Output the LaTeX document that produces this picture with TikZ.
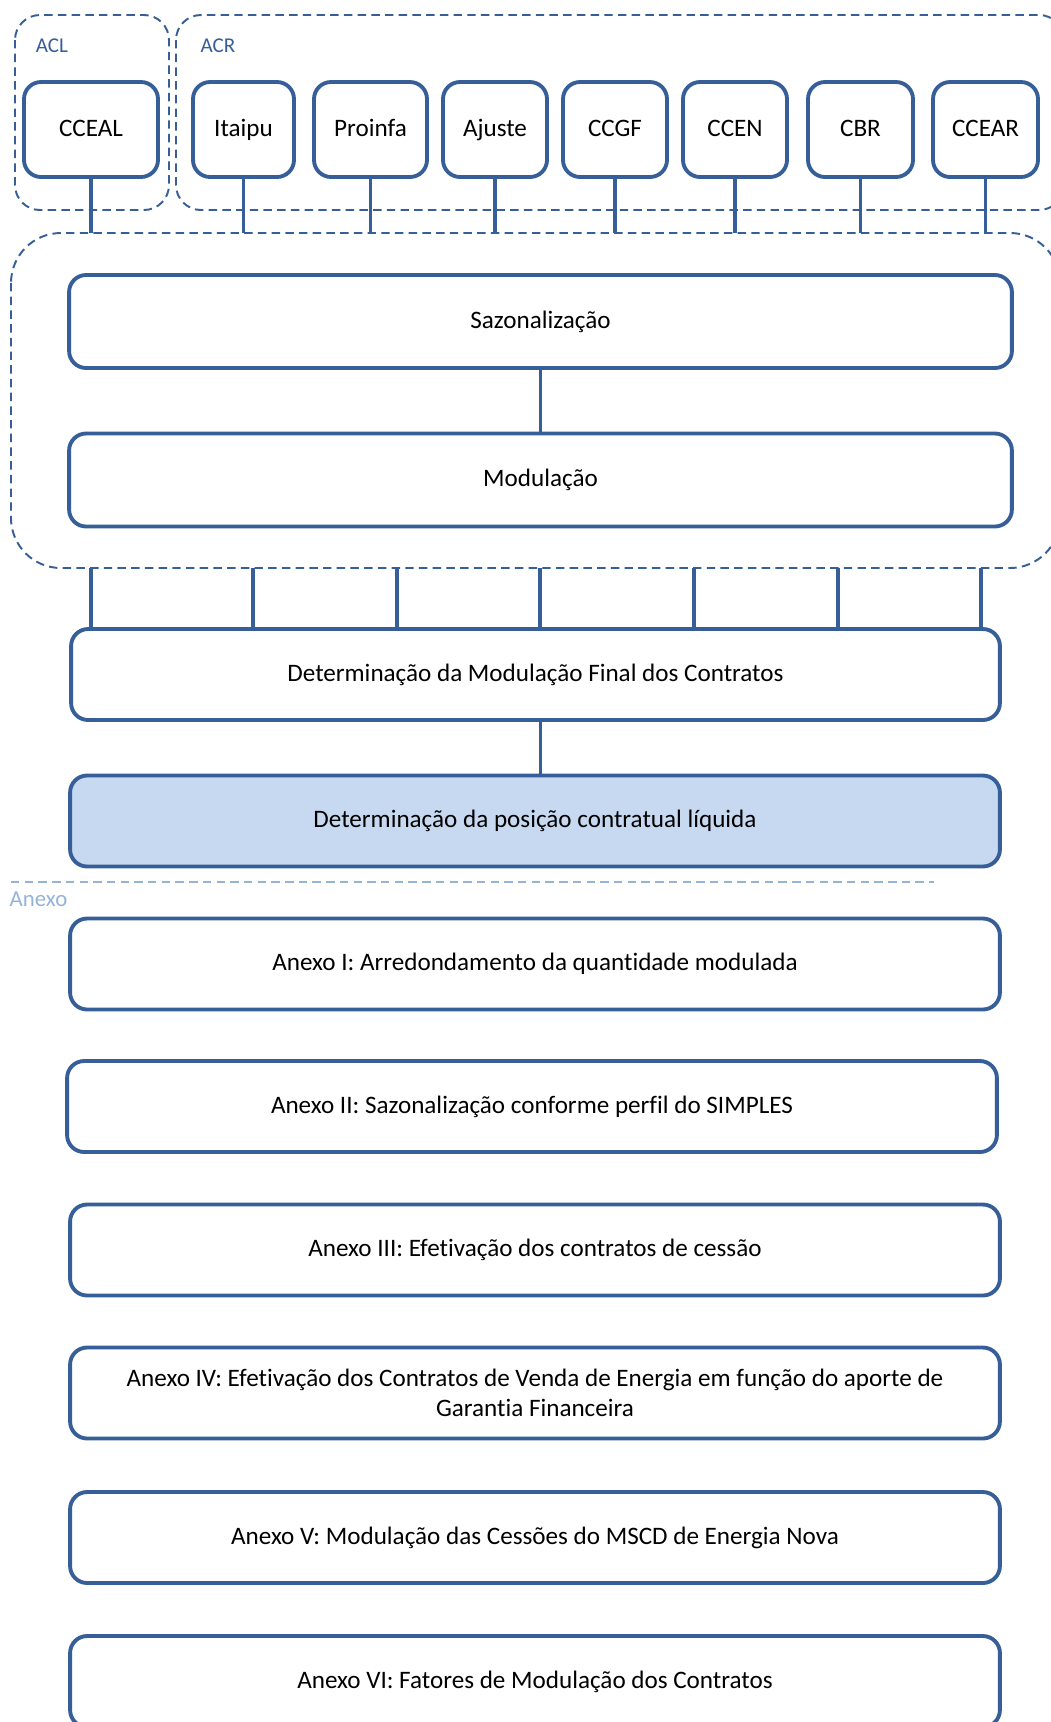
\documentclass[tikz,border=0pt]{standalone}
\usepackage{fontspec}
\setmainfont{Carlito}[Ligatures=NoCommon]
\usepackage{xcolor}
\definecolor{ccblue}{RGB}{54,94,152}
\definecolor{ccfill}{RGB}{198,217,241}
\definecolor{cclight}{RGB}{149,179,215}
\usetikzlibrary{positioning}

\tikzset{
  stepbox/.style={draw=ccblue, line width=2.2pt, rounded corners=0.34cm, fill=white,
    align=center, inner sep=0pt, text height=1.95ex, text depth=0.3ex,
    font=\fontsize{14.3}{16.8}\selectfont},
  itembox/.style={stepbox, minimum height=1.9cm},
  widebox/.style={stepbox, minimum width=18.6cm, minimum height=1.82cm},
  link/.style={draw=ccblue, line width=1.8pt},
  grpframe/.style={draw=ccblue, line width=1.1pt, dash pattern=on 4.8pt off 3pt},
  grplabel/.style={text=ccblue, font=\fontsize{12}{14}\selectfont},
}

\begin{document}
\begin{tikzpicture}[x=0.02cm, y=-0.02cm]
  \useasboundingbox (0,0) rectangle (1051,1722);
  \clip (0,0) rectangle (1051,1722);

  % Contract groups (top)
  \draw[grpframe, rounded corners=0.5cm] (15,15) rectangle (169,210);
  \node[grplabel] (acl) at (52,46) {ACL};
  \draw[grpframe, rounded corners=0.5cm] (176,15) rectangle (1064,210);
  \node[grplabel] (acr) at (218,46) {ACR};

  \node[itembox, minimum width=2.68cm] (cceal) at (91,129.5) {CCEAL};
  \node[itembox, minimum width=2.02cm] (itaipu) at (243.5,129.5) {Itaipu};
  \node[itembox, minimum width=2.26cm] (proinfa) at (370.5,129.5) {Proinfa};
  \node[itembox, minimum width=2.08cm] (ajuste) at (495,129.5) {Ajuste};
  \node[itembox, minimum width=2.08cm] (ccgf) at (615,129.5) {CCGF};
  \node[itembox, minimum width=2.08cm] (ccen) at (735,129.5) {CCEN};
  \node[itembox, minimum width=2.10cm] (cbr) at (860.5,129.5) {CBR};
  \node[itembox, minimum width=2.10cm] (ccear) at (985.5,129.5) {CCEAR};

  % Seasonalisation / modulation group
  \draw[grpframe, rounded corners=1cm] (11,233) rectangle (1060,568);
  \coordinate (grptop) at (0,233);
  \node[stepbox, minimum width=18.86cm, minimum height=1.86cm] (saz) at (540.5,321.5) {Sazonalização};
  \node[stepbox, minimum width=18.86cm, minimum height=1.86cm] (mod) at (540.5,480) {Modulação};

  \foreach \n in {cceal,itaipu,proinfa,ajuste,ccgf,ccen,cbr,ccear}
    \draw[link] (\n.south) -- (\n.south |- grptop);
  \draw[link] (saz) -- (mod);

  % Final modulation and net position
  \node[widebox, minimum width=18.58cm] (modfinal) at (535.5,674.5) {Determinação da Modulação Final dos Contratos};
  \node[widebox, fill=ccfill] (posicao) at (535,821) {Determinação da posição contratual líquida};

  \foreach \px [count=\i] in {91,253,397,540,694,838,981} {
    \coordinate (g\i) at (\px,568);
    \draw[link] (g\i) -- (g\i |- modfinal.north);
  }
  \draw[link] (mod.south |- modfinal.south) -- (mod.south |- posicao.north);

  % Annexes
  \draw[cclight, line width=1.1pt, dash pattern=on 4.8pt off 3pt] (11,882) -- (934,882);
  \node[text=cclight, font=\fontsize{13}{15}\selectfont] (anexo) at (38.5,899) {Anexo};

  \node[widebox] (anexoI) at (535,964) {Anexo I: Arredondamento da quantidade modulada};
  \node[widebox] (anexoII) at (532,1106.5) {Anexo II: Sazonalização conforme perfil do SIMPLES};
  \node[widebox] (anexoIII) at (535,1250) {Anexo III: Efetivação dos contratos de cessão};
  \node[widebox, text height={}, text depth={}] (anexoIV) at (535,1393) {Anexo IV: Efetivação dos Contratos de Venda de Energia em função do aporte de\\Garantia Financeira};
  \node[widebox] (anexoV) at (535,1537.5) {Anexo V: Modulação das Cessões do MSCD de Energia Nova};
  \node[widebox] (anexoVI) at (535,1681.5) {Anexo VI: Fatores de Modulação dos Contratos};
\end{tikzpicture}
\end{document}
